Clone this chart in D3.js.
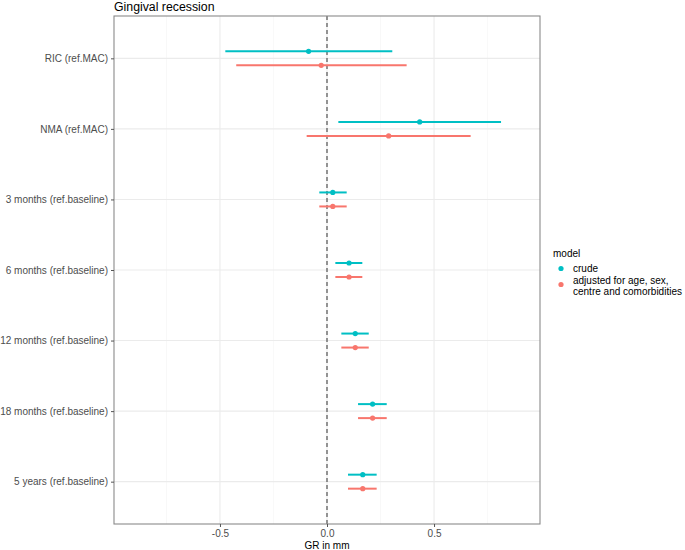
<!DOCTYPE html>
<html>
<head>
<meta charset="utf-8">
<script src="https://cdn.jsdelivr.net/npm/d3@7"></script>
<style>
  body { margin: 0; background: #fff; }
  svg { font-family: "Liberation Sans", Arial, sans-serif; }
</style>
</head>
<body>
<svg id="chart" width="685" height="550"></svg>
<script>
// terms, top to bottom
var terms = ["RIC (ref.MAC)", "NMA (ref.MAC)", "3 months (ref.baseline)", "6 months (ref.baseline)",
             "12 months (ref.baseline)", "18 months (ref.baseline)", "5 years (ref.baseline)"];

// crude model: estimate, lower, upper
var crudeEst = [-0.086, 0.433, 0.027, 0.103, 0.132, 0.213, 0.167];
var crudeLo  = [-0.475, 0.053, -0.036, 0.039, 0.067, 0.145, 0.098];
var crudeHi  = [0.305, 0.813, 0.092, 0.165, 0.195, 0.279, 0.232];

// adjusted model
var adjEst = [-0.027, 0.288, 0.027, 0.103, 0.132, 0.213, 0.167];
var adjLo  = [-0.424, -0.095, -0.036, 0.039, 0.067, 0.145, 0.098];
var adjHi  = [0.372, 0.671, 0.092, 0.165, 0.195, 0.279, 0.232];

var xTicks = [-0.5, 0, 0.5];
var xMinor = [-0.75, -0.25, 0.25, 0.75];

var models = [
  {name: "crude", color: "#00BFC4", est: crudeEst, lo: crudeLo, hi: crudeHi, off: -7},
  {name: "adjusted", color: "#F8766D", est: adjEst, lo: adjLo, hi: adjHi, off: 7}
];

var pL = 114, pR = 540, pT = 16, pB = 524;
var svg = d3.select("#chart");

var x = d3.scaleLinear().domain([-0.995, 0.995]).range([pL, pR]);
var y = d3.scalePoint().domain(terms).range([pT, pB]).padding(0.6);

// grid
var g = svg.append("g");
g.selectAll("line.minor").data(xMinor).enter().append("line")
  .attr("x1", d => x(d)).attr("x2", d => x(d)).attr("y1", pT).attr("y2", pB)
  .attr("stroke", "#f4f4f4").attr("stroke-width", 0.6);
g.selectAll("line.majx").data(xTicks).enter().append("line")
  .attr("x1", d => x(d)).attr("x2", d => x(d)).attr("y1", pT).attr("y2", pB)
  .attr("stroke", "#ebebeb").attr("stroke-width", 1.1);
g.selectAll("line.majy").data(terms).enter().append("line")
  .attr("x1", pL).attr("x2", pR).attr("y1", d => y(d)).attr("y2", d => y(d))
  .attr("stroke", "#ebebeb").attr("stroke-width", 1.1);

// zero reference line
svg.append("line")
  .attr("x1", x(0)).attr("x2", x(0)).attr("y1", pT).attr("y2", pB)
  .attr("stroke", "#444").attr("stroke-width", 1.1).attr("stroke-dasharray", "4,3");

// intervals and points
models.forEach(function(m) {
  var grp = svg.append("g");
  grp.selectAll("line").data(terms).enter().append("line")
    .attr("x1", (d, i) => x(m.lo[i])).attr("x2", (d, i) => x(m.hi[i]))
    .attr("y1", d => y(d) + m.off).attr("y2", d => y(d) + m.off)
    .attr("stroke", m.color).attr("stroke-width", 2);
  grp.selectAll("circle").data(terms).enter().append("circle")
    .attr("cx", (d, i) => x(m.est[i])).attr("cy", d => y(d) + m.off)
    .attr("r", 2.6).attr("fill", m.color);
});

// panel border
svg.append("rect").attr("x", pL).attr("y", pT)
  .attr("width", pR - pL).attr("height", pB - pT)
  .attr("fill", "none").attr("stroke", "#8a8a8a").attr("stroke-width", 1.1);

// axes
var xAxis = svg.append("g").attr("transform", "translate(0," + pB + ")")
  .call(d3.axisBottom(x).tickValues(xTicks).tickFormat(d3.format(".1f")).tickSize(3).tickPadding(3));
var yAxis = svg.append("g").attr("transform", "translate(" + pL + ",0)")
  .call(d3.axisLeft(y).tickSize(3).tickPadding(3));
[xAxis, yAxis].forEach(function(a) {
  a.select(".domain").remove();
  a.selectAll(".tick line").attr("stroke", "#555");
  a.selectAll(".tick text").attr("fill", "#4d4d4d").style("font-size", "10px")
    .style("font-family", "'Liberation Sans', Arial, sans-serif");
});
xAxis.selectAll(".tick text").text(d => d3.format(".1f")(d).replace("−", "-"));

svg.append("text").attr("x", (pL + pR) / 2).attr("y", 549)
  .attr("text-anchor", "middle").style("font-size", "10px").attr("fill", "#000").text("GR in mm");

svg.append("text").attr("x", pL).attr("y", 11)
  .style("font-size", "12.3px").attr("fill", "#000").text("Gingival recession");

// legend
var lg = svg.append("g");
lg.append("text").attr("x", 553).attr("y", 256.5).style("font-size", "10px").text("model");
lg.append("circle").attr("cx", 561).attr("cy", 268.5).attr("r", 2.6).attr("fill", models[0].color);
lg.append("text").attr("x", 573).attr("y", 272).style("font-size", "10px").attr("fill", "#000").text("crude");
lg.append("circle").attr("cx", 561).attr("cy", 284.5).attr("r", 2.6).attr("fill", models[1].color);
lg.append("text").attr("x", 573).attr("y", 283.5).style("font-size", "10px").attr("fill", "#000")
  .text("adjusted for age, sex,");
lg.append("text").attr("x", 573).attr("y", 295.2).style("font-size", "10px").attr("fill", "#000")
  .text("centre and comorbidities");
</script>
</body>
</html>
